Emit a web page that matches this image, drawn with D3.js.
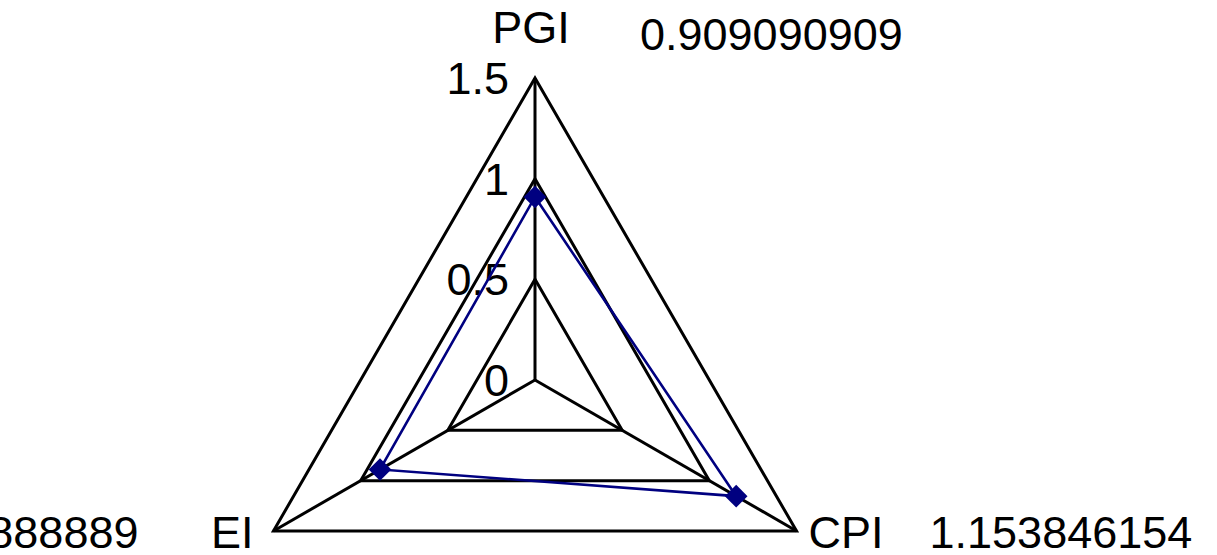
<!DOCTYPE html>
<html>
<head>
<meta charset="utf-8">
<script src="https://cdn.jsdelivr.net/npm/d3@7"></script>
<style>
  body { margin: 0; background: #fff; }
  svg text { font-family: "Liberation Sans", Arial, sans-serif; font-size: 45px; fill: #000; }
</style>
</head>
<body>
<svg id="chart" width="1217" height="555"></svg>
<script>
	var categories = ["PGI", "CPI", "EI"];
	var values = [0.909090909, 1.153846154, 0.888888889];
	var valueLabels = ["0.909090909", "1.153846154", "0.888888889"];
	var ticks = [0, 0.5, 1, 1.5];
	var tickLabels = ["0", "0.5", "1", "1.5"];

	var cx = 535, cy = 380;
	var maxR = 302;

	var svg = d3.select("#chart");
	var g = svg.append("g").attr("transform", "translate(" + cx + "," + cy + ")");

	var r = d3.scaleLinear().domain([0, 1.5]).range([0, maxR]);
	var angle = d3.scalePoint().domain(categories).range([0, 2 * Math.PI * 2 / 3]);

	function px(cat, v) { return Math.sin(angle(cat)) * r(v); }
	function py(cat, v) { return -Math.cos(angle(cat)) * r(v); }

	var ring = d3.lineRadial()
		.angle(function (d) { return angle(d.cat); })
		.radius(function (d) { return r(d.v); })
		.curve(d3.curveLinearClosed);

	// grid rings
	g.selectAll(".ring")
		.data(ticks.filter(function (t) { return t > 0; }))
		.enter().append("path")
		.attr("class", "ring")
		.attr("d", function (t) {
			return ring(categories.map(function (c) { return {cat: c, v: t}; }));
		})
		.style("fill", "none")
		.style("stroke", "#000")
		.style("stroke-width", 3)
		.style("stroke-linejoin", "miter");

	// spokes
	g.selectAll(".spoke")
		.data(categories)
		.enter().append("line")
		.attr("class", "spoke")
		.attr("x1", 0).attr("y1", 0)
		.attr("x2", function (c) { return px(c, 1.5); })
		.attr("y2", function (c) { return py(c, 1.5); })
		.style("stroke", "#000")
		.style("stroke-width", 3);

	// tick labels on the first axis
	g.selectAll(".tick")
		.data(ticks)
		.enter().append("text")
		.attr("class", "tick")
		.attr("x", -26)
		.attr("y", function (t) { return -r(t) + 16; })
		.attr("text-anchor", "end")
		.text(function (t, i) { return tickLabels[i]; });

	// series
	var pts = categories.map(function (c, i) { return {cat: c, v: values[i]}; });
	g.append("path")
		.attr("d", ring(pts))
		.style("fill", "none")
		.style("stroke", "#000080")
		.style("stroke-width", 2.6);

	g.selectAll(".marker")
		.data(pts)
		.enter().append("path")
		.attr("class", "marker")
		.attr("transform", function (d) {
			return "translate(" + px(d.cat, d.v) + "," + py(d.cat, d.v) + ") rotate(45)";
		})
		.attr("d", "M-8,-8H8V8H-8Z")
		.style("fill", "#000080");

	// category + value labels
	var labelPos = {
		PGI: {x: -4, y: -35, anchor: "middle", vx: 105, vy: -28, vanchor: "start"},
		CPI: {x: 12, y: 17, anchor: "start", vx: 133, vy: 17, vanchor: "start"},
		EI: {x: -20, y: 17, anchor: "end", vx: -135, vy: 17, vanchor: "end"}
	};
	categories.forEach(function (c, i) {
		var p = labelPos[c];
		var ex = px(c, 1.5), ey = py(c, 1.5);
		g.append("text")
			.attr("x", ex + p.x).attr("y", ey + p.y)
			.attr("text-anchor", p.anchor)
			.text(c);
		g.append("text")
			.attr("x", ex + p.vx).attr("y", ey + p.vy)
			.attr("text-anchor", p.vanchor)
			.text(valueLabels[i]);
	});
</script>
</body>
</html>
